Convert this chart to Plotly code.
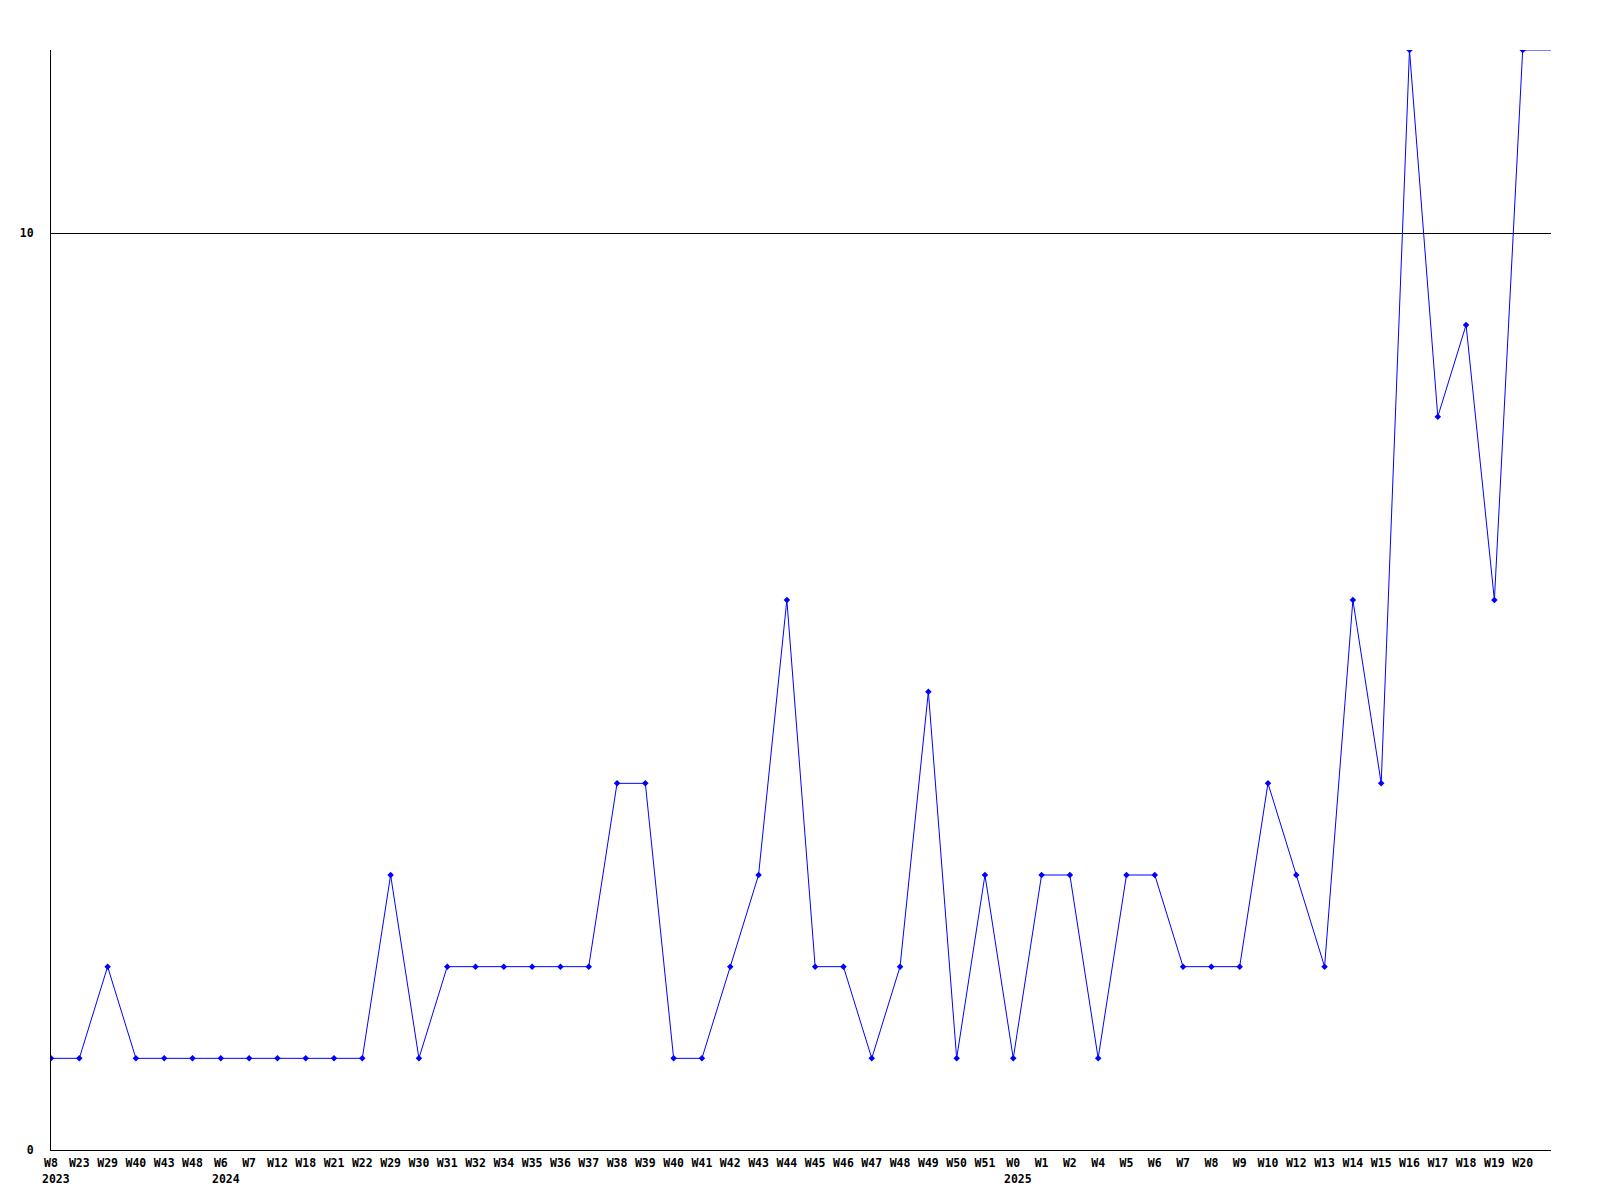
import plotly.graph_objects as go

weeks = ["W8", "W23", "W29", "W40", "W43", "W48", "W6", "W7", "W12", "W18",
         "W21", "W22", "W29", "W30", "W31", "W32", "W34", "W35", "W36", "W37",
         "W38", "W39", "W40", "W41", "W42", "W43", "W44", "W45", "W46", "W47",
         "W48", "W49", "W50", "W51", "W0", "W1", "W2", "W4", "W5", "W6",
         "W7", "W8", "W9", "W10", "W12", "W13", "W14", "W15", "W16", "W17",
         "W18", "W19", "W20"]
counts = [1, 1, 2, 1, 1, 1, 1, 1, 1, 1,
          1, 1, 3, 1, 2, 2, 2, 2, 2, 2,
          4, 4, 1, 1, 2, 3, 6, 2, 2, 1,
          2, 5, 1, 3, 1, 3, 3, 1, 3, 3,
          2, 2, 2, 4, 3, 2, 6, 4, 12, 8,
          9, 6, 12]
year_labels = {0: "2023", 6: "2024", 34: "2025"}
y_ticks = [0, 10]
y_max = 12

FONT = dict(family="DejaVu Sans Mono", size=11.5, color="black", weight="bold")
BLUE = "#0000ff"

idx = list(range(len(weeks)))
x_end = len(weeks)  # axis extends one slot past the last week

fig = go.Figure()
# line (carried to the right edge of the plot at the last value)
fig.add_trace(go.Scatter(
    x=idx + [x_end], y=counts + [counts[-1]],
    mode="lines", line=dict(color=BLUE, width=1),
    hoverinfo="skip", showlegend=False,
))
fig.add_trace(go.Scatter(
    x=idx, y=counts, mode="markers",
    marker=dict(color=BLUE, size=5, symbol="diamond"),
    showlegend=False,
))

for i, yr in year_labels.items():
    fig.add_annotation(
        x=i, y=0, xref="x", yref="y", text=yr, showarrow=False,
        xanchor="left", yanchor="top", xshift=-11, yshift=-20,
        font=FONT,
    )

fig.update_layout(
    width=1600, height=1200,
    margin=dict(l=43, r=57, t=42, b=58),
    paper_bgcolor="white", plot_bgcolor="white",
    font=FONT,
    xaxis=dict(
        range=[0, x_end], tickmode="array", tickvals=idx, ticktext=weeks,
        showgrid=False, zeroline=False, showline=True, linecolor="black",
        linewidth=1, ticks="", tickfont=FONT, tickangle=0,
        ticklabelstandoff=2,
    ),
    yaxis=dict(
        range=[0, y_max], tickmode="array", tickvals=y_ticks,
        showgrid=True, gridcolor="black", gridwidth=1,
        zeroline=False, showline=True, linecolor="black", linewidth=1,
        ticks="", tickfont=FONT, ticklabelstandoff=14,
    ),
)

fig.write_html("out.html")
